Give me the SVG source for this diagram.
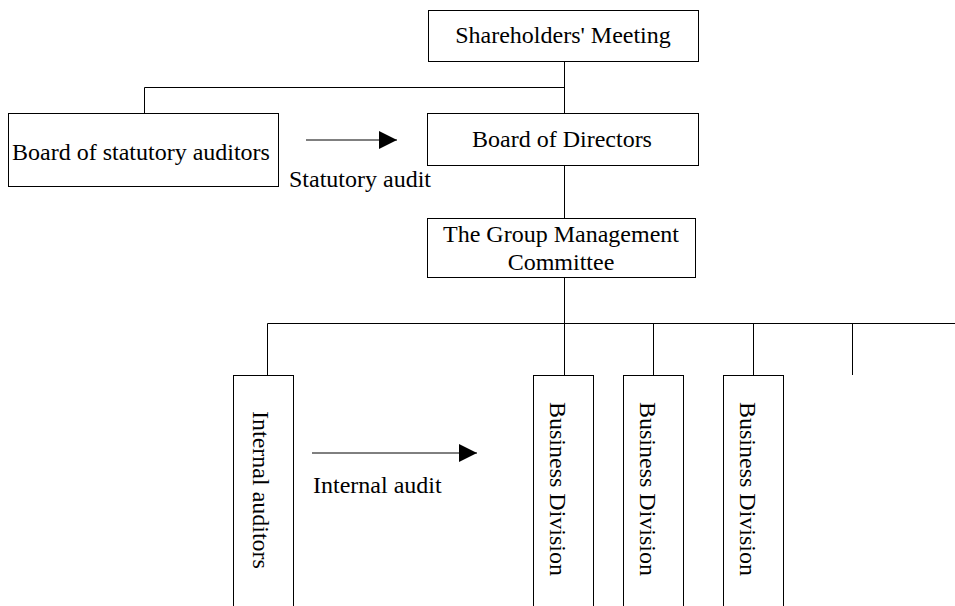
<svg xmlns="http://www.w3.org/2000/svg" width="955" height="606" viewBox="0 0 955 606">
<style>
  .box { fill: #fff; stroke: #000; stroke-width: 1; }
  .ln { fill: none; stroke: #000; stroke-width: 1; }
  .t { font-family: "Liberation Serif", "Times New Roman", serif; font-size: 24px; fill: #000; }
  .c { text-anchor: middle; }
</style>
<defs>
  <marker id="arr" viewBox="0 0 18 18" refX="18" refY="9" markerWidth="18" markerHeight="18" markerUnits="userSpaceOnUse" orient="auto">
    <path d="M0,0 L18,9 L0,18 Z" fill="#000"/>
  </marker>
</defs>
<g id="connectors">
  <path class="ln" d="M564.5,61 V113"/>
  <path class="ln" d="M144.5,113 V87.5 H564.5"/>
  <path class="ln" d="M564.5,165 V218"/>
  <path class="ln" d="M564.5,277 V323.5"/>
  <path class="ln" d="M267.5,375 V323.5 H955"/>
  <path class="ln" d="M564.5,323.5 V375"/>
  <path class="ln" d="M653.5,323.5 V375"/>
  <path class="ln" d="M753.5,323.5 V375"/>
  <path class="ln" d="M852.5,323.5 V375"/>
  <line class="ln" x1="306" y1="140" x2="397" y2="140" marker-end="url(#arr)"/>
  <line class="ln" x1="312" y1="453" x2="477" y2="453" marker-end="url(#arr)"/>
  <text class="t" x="289" y="187">Statutory audit</text>
  <text class="t" x="313" y="493">Internal audit</text>
</g>
<g id="shareholders">
  <rect class="box" x="428.5" y="10.5" width="270" height="51"/>
  <text class="t c" x="563" y="43">Shareholders' Meeting</text>
</g>
<g id="statutory-auditors">
  <rect class="box" x="8.5" y="113.5" width="270" height="73"/>
  <text class="t" x="12" y="160">Board of statutory auditors</text>
</g>
<g id="board">
  <rect class="box" x="427.5" y="113.5" width="271" height="52"/>
  <text class="t c" x="562" y="147">Board of Directors</text>
</g>
<g id="gmc">
  <rect class="box" x="427.5" y="218.5" width="268" height="59"/>
  <text class="t c" x="561" y="242">The Group Management</text>
  <text class="t c" x="561" y="270">Committee</text>
</g>
<g id="internal-auditors">
  <rect class="box" x="233.5" y="375.5" width="60" height="250"/>
  <text class="t" transform="translate(253,411) rotate(90)">Internal auditors</text>
</g>
<g id="bd1">
  <rect class="box" x="533.5" y="375.5" width="60" height="250"/>
  <text class="t" transform="translate(550,402) rotate(90)">Business Division</text>
</g>
<g id="bd2">
  <rect class="box" x="623.5" y="375.5" width="60" height="250"/>
  <text class="t" transform="translate(640,402) rotate(90)">Business Division</text>
</g>
<g id="bd3">
  <rect class="box" x="723.5" y="375.5" width="60" height="250"/>
  <text class="t" transform="translate(740,402) rotate(90)">Business Division</text>
</g>
</svg>
